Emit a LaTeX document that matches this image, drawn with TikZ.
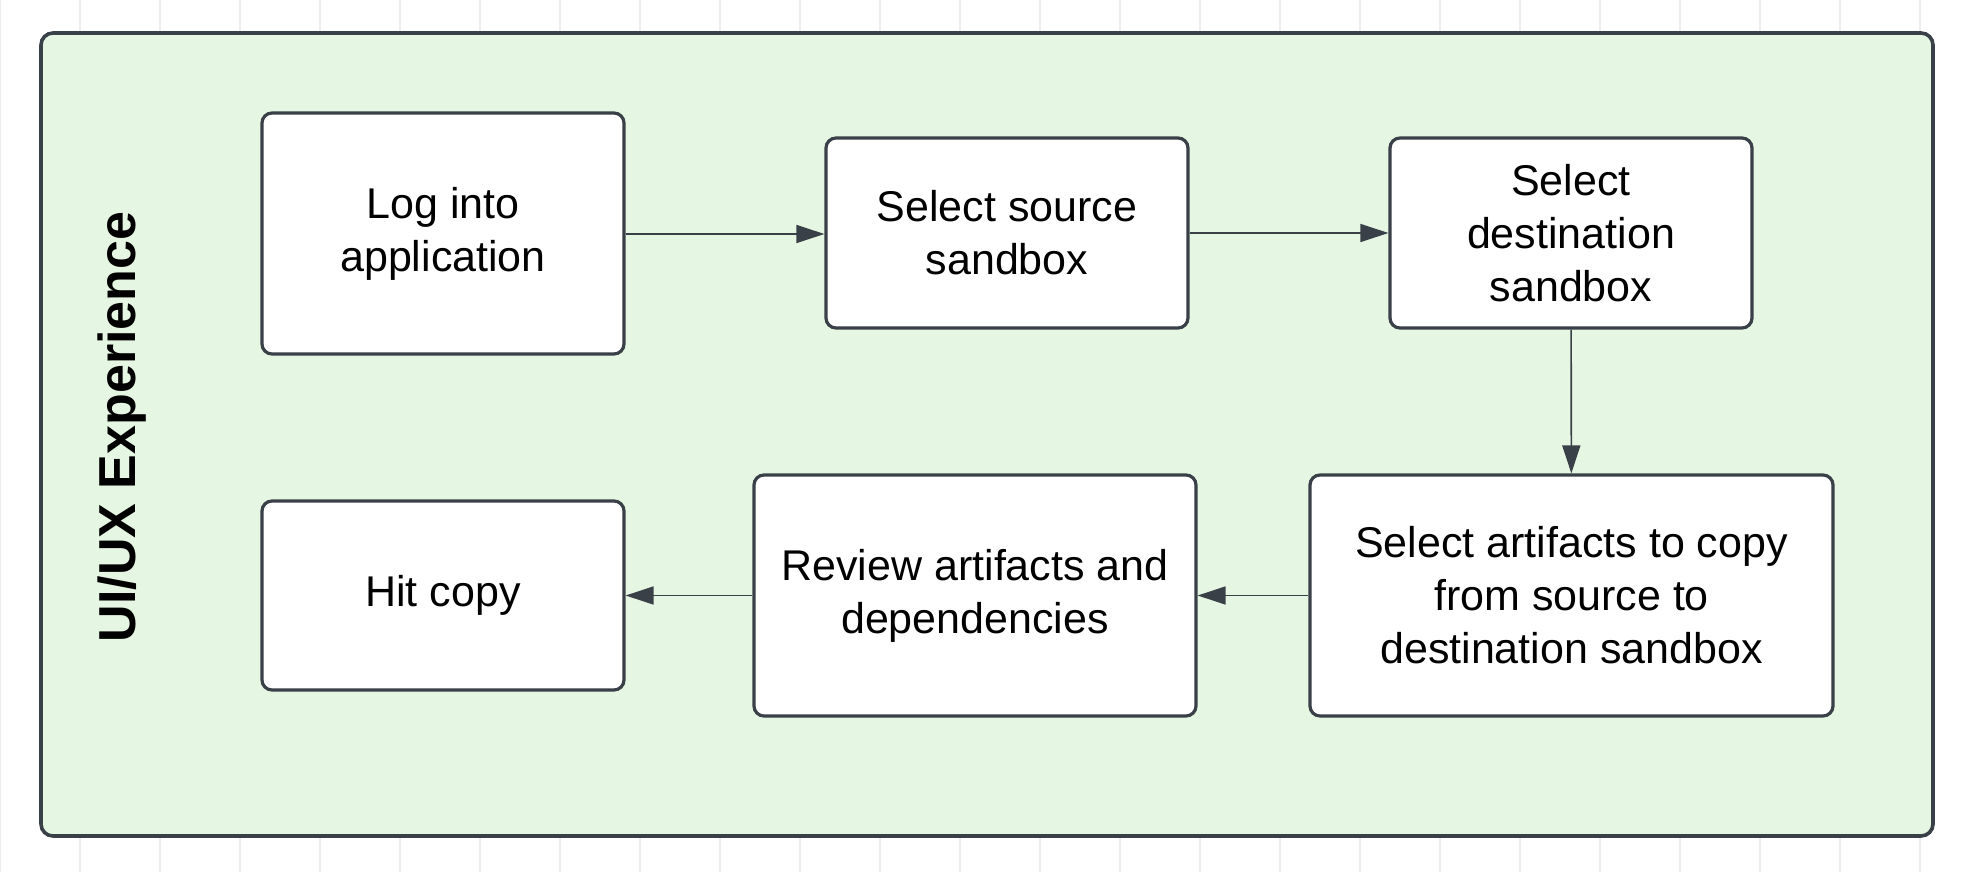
\documentclass[tikz,border=0pt]{standalone}
\usepackage{fontspec}
\setmainfont{Liberation Sans}
\usetikzlibrary{arrows.meta}
\definecolor{edge}{HTML}{3A4047}
\definecolor{pane}{HTML}{E5F6E2}
\begin{document}
\begin{tikzpicture}[x=0.5pt,y=-0.5pt,
  box/.style={draw=edge,line width=1.6pt,fill=white,rounded corners=5pt,align=center,font=\fontsize{21.5}{26.5}\selectfont},
  arr/.style={draw=edge,line width=0.8pt,-{Triangle[length=14pt,width=9pt]}}]
\useasboundingbox (0,0) rectangle (1970,872);
\fill[white] (0,0) rectangle (1970,872);
\draw[black!7,line width=0.6pt] (0,0) grid[step=80] (1970,872);
\draw[edge,line width=1.8pt,fill=pane,rounded corners=6pt] (41,33) rectangle (1933,836);
\node[rotate=90,font=\fontsize{26}{30}\selectfont\bfseries] (title) at (122,427) {UI/UX Experience};
\node[box,minimum width=181pt,minimum height=120.5pt] (b1) at (443,233.5) {Log into\\application};
\node[box,minimum width=181pt,minimum height=95pt] (b2) at (1007,233) {Select source\\sandbox};
\node[box,minimum width=181pt,minimum height=95pt] (b3) at (1571,233) {Select\\destination\\sandbox};
\node[box,minimum width=261.5pt,minimum height=120.5pt] (b4) at (1571.5,595.5) {Select artifacts to copy\\from source to\\destination sandbox};
\node[box,minimum width=221pt,minimum height=120.5pt] (b5) at (975,595.5) {Review artifacts and\\dependencies};
\node[box,minimum width=181pt,minimum height=94.5pt] (b6) at (443,595.5) {Hit copy};
\draw[arr] (b1.east |- 0,234) -- (b2.west |- 0,234);
\draw[arr] (b2) -- (b3);
\draw[arr] (b3) -- (b4);
\draw[arr] (b4) -- (b5);
\draw[arr] (b5) -- (b6);
\end{tikzpicture}
\end{document}
